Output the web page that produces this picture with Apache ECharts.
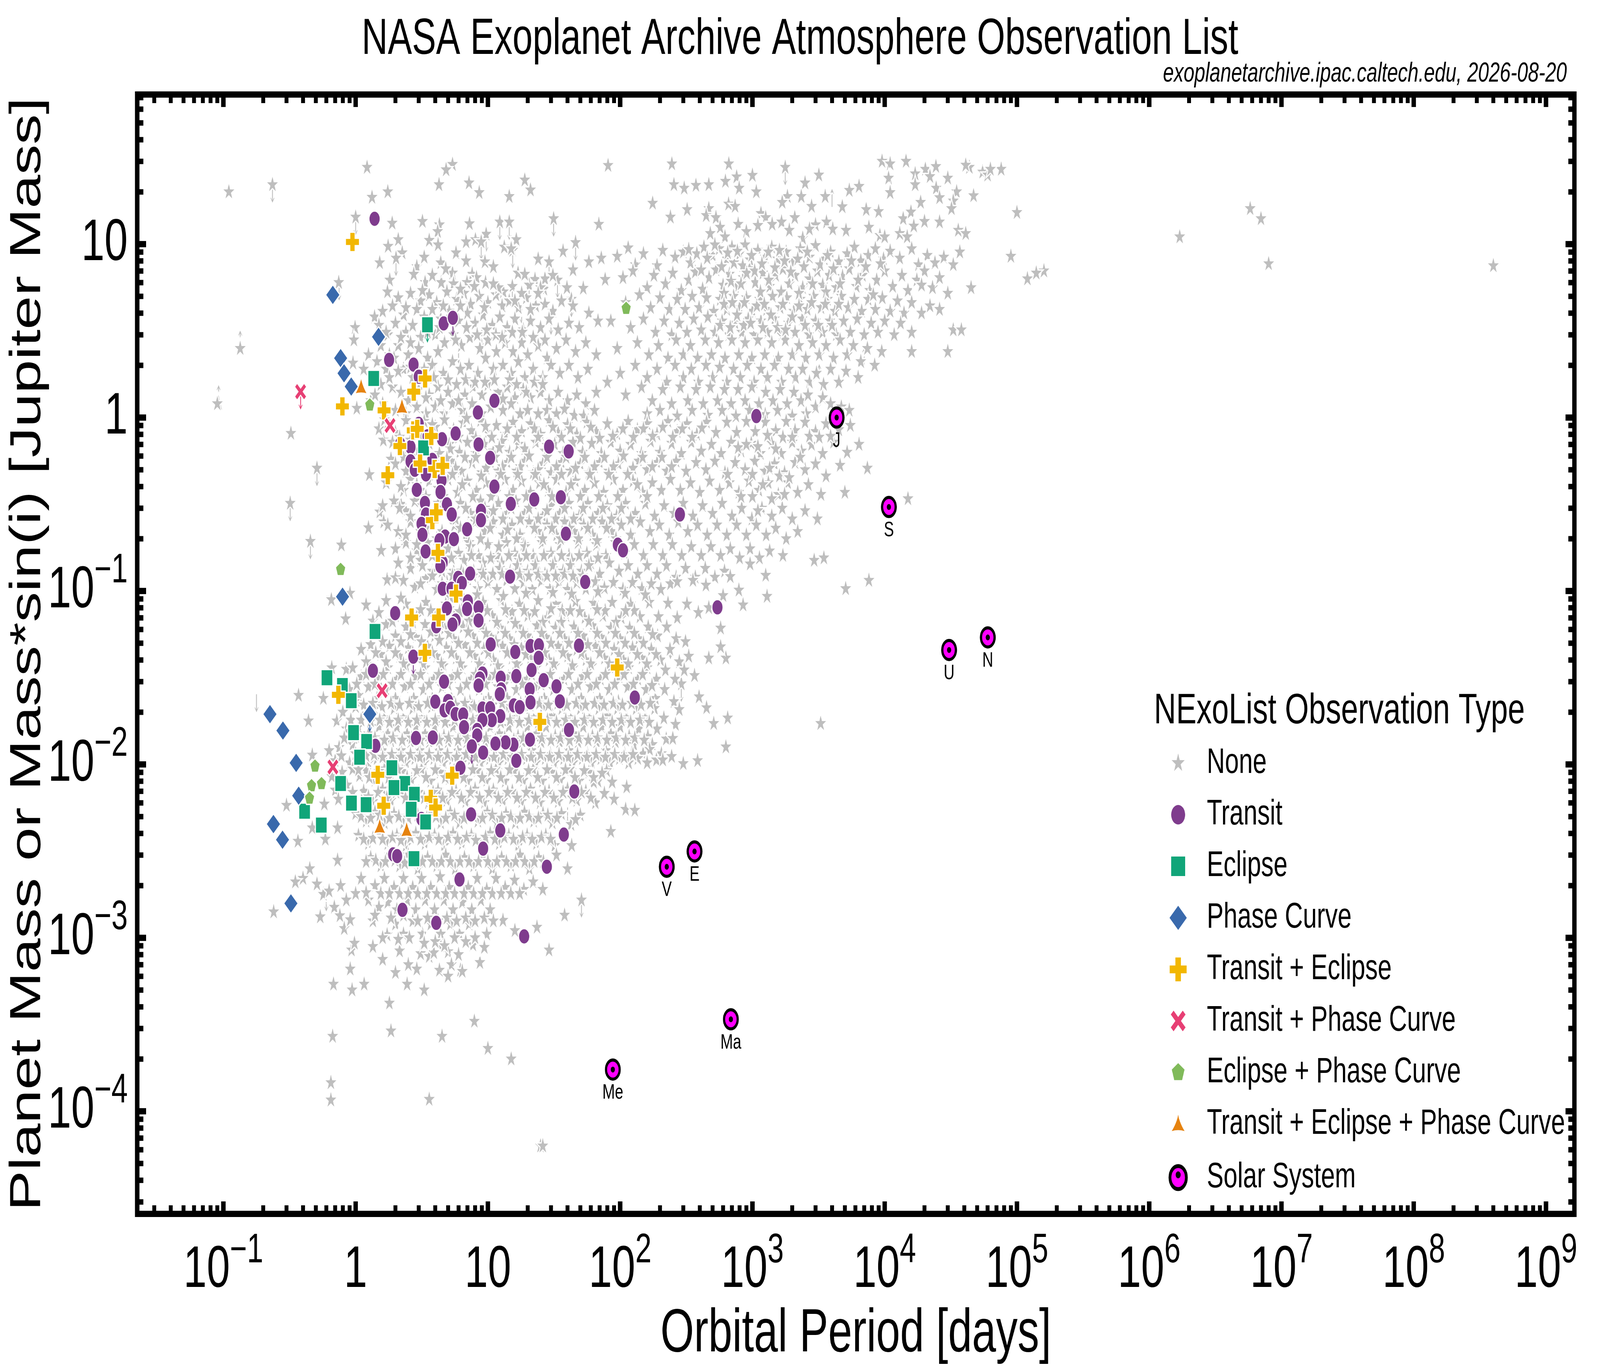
<!DOCTYPE html>
<html><head><meta charset="utf-8">
<style>html,body{margin:0;padding:0;background:#fff;overflow:hidden}#c{width:5750px;height:3500px;transform-origin:0 0}</style>
<script src="https://cdn.jsdelivr.net/npm/echarts@6/dist/echarts.min.js"></script>
</head><body><div id="c"></div><script>
const FONT='"Liberation Sans"';
// "None" planets: flat [period, mantissa] lists, one list per mass decade (mass = mantissa * 10^k Jupiter)
const noneE1=[.11,2,.235,2.2,1.22,2.77,5.4,2.88,4.83,2.68,4.27,2.2,7.2,2.25,8.6,1.98,19,2.34,21,2.05,14.5,1.88,1.33,1.86,1.75,2,1,1.43,31.4,1.4,69,1.3,1.89,1.32,3.2,1.35,4.3,1.29,7.26,1.31,12.3,1.34,14.5,1.34,9.7,1.14,46,1.02,16.4,1.06,4.17,1.18,3.6,1.05,2.1,1.06,6.84,1.03,8.05,1.06,8.9,1.03,
81,2.84,246,2.9,663,2.9,1770,2.77,9550,3,11000,2.9,14500,3,20300,2.7,24400,2.8,43700,2.77,41000,2.85,76000,2.7,255,2.2,305,2.1,374,2.18,468,2.2,625,2.3,760,2.44,1000,2.49,794,2.1,1070,2,2500,2.25,3180,2.5,5400,2.04,6400,2.15,10700,2.4,17000,2.54,22000,2.45,30000,2.4,11000,1.98,17000,2.2,24500,2.1,35000,2,26000,1.85,33000,1.77,18700,1.74,1840,1.88,2340,1.88,3550,1.88,1680,1.74,2800,1.65,4780,1.64,176,1.72,321,1.58,240,1.43,69,1.3,660,1.7,740,1.65,468,1.6,447,1.46,530,1.42,1160,1.5,1260,1.42,1410,1.3,1660,1.34,2090,1.42,3000,1.29,3630,1.34,4050,1.22,5100,1.2,7250,1.58,9000,1.54,13800,1.4,15800,1.53,26000,1.34,16600,1.27,7600,1.25,9200,1.12,10000,1.1,13000,1.15,14800,1.1,100000,1.52,1700000,1.1,5800000,1.6,7000000,1.4,570,1.25,780,1.3,900,1.18,1100,1.28,1900,1.2,2400,1.08,2700,1.22,620,1.1,480,1.15,36000,1.2,41000,1.15,20000,1.35,32000,1.6,47000,1.9,55000,2.6,60000,2.5,63000,2.7];
const noneE0=[4.2,9.9,2.25,8.9,2.02,8.3,1.76,9.7,1.52,7.8,13.3,9.6,15.4,9.2,5.74,8.9,6.84,8,9.5,7.9,4.4,7.8,2.9,7.4,29,7.9,58,7.9,72,8.3,7.6,6.7,5.4,6.8,16.9,6.8,1.81,6.2,3.35,6,4.44,6,5.5,5.9,2.75,6.7,6.95,6,9.6,6,22.7,6.25,33.6,6.2,77,6.25,15.3,5.7,20.5,5.8,13.1,5.3,26.5,5.5,39.6,5.6,52.6,5.56,42.8,4.8,1.74,5.3,.745,6,.99,3.3,.97,2.8,.955,2.06,1.02,1.13,1.39,3.8,.134,2.5,.092,1.21,
2.1,4.9,2.6,5.2,3.1,4.7,3.6,5.1,4.1,4.6,4.9,5.3,5.8,4.8,6.6,5.2,7.4,4.5,8.6,5,10,4.6,11.5,5.1,12.8,4.4,14.5,4.7,17,4.3,19.5,4.9,23,4.4,27,4.5,31,4.1,36,4.7,44,4.4,1.6,4.1,1.9,4.4,2.3,3.9,2.9,4.2,3.3,3.8,3.8,4.2,4.4,3.7,5.1,4.1,6,3.6,7,4,8,3.5,9.2,3.9,10.8,3.4,12.3,3.8,14,3.3,16,3.7,18.5,3.2,21,3.6,25,3.3,29,3.7,34,3.2,41,3.5,49,3.3,58,4,68,3.6,1.5,3.4,1.75,3,2,3.5,2.4,3.1,2.7,3.4,3.1,2.9,4,3,4.7,2.7,5.5,3,6.3,2.6,7.3,2.9,8.7,2.5,10,2.8,11.6,2.4,13.5,2.7,15.5,2.4,18,2.7,20,2.3,24,2.6,28,2.2,33,2.5,39,2.8,46,2.4,55,2.7,66,2.3,1.55,2.6,1.8,2.3,2.1,2.6,2.5,2.3,3,2.5,3.5,2.2,4.2,2.4,1.25,2.3,1.45,2.1,1.7,1.9,1.95,2.2,2.3,1.9,2.7,1.7,3.3,1.9,3.8,2,4.6,1.8,5.4,2.1,6.2,1.9,7.2,2,8.4,1.8,9.6,2.2,11,1.9,13,2,15,1.8,17,2.1,19,1.7,22,1.9,26,1.7,30,2,35,1.8,41,2,48,1.7,57,1.9,1.3,1.7,1.55,1.55,1.9,1.5,2.2,1.4,2.5,1.25,3,1.45,3.6,1.35,4.2,1.5,5,1.4,5.8,1.55,6.7,1.35,7.7,1.5,9,1.35,10,1.55,12,1.4,14,1.5,16,1.3,18.5,1.45,21,1.3,25,1.4,29,1.25,34,1.4,40,1.25,47,1.35,55,1.2,66,1.4,80,1.6,1.3,1.25,1.6,1.2,2,1.1,2.4,1.05,2.9,1.15,3.4,1.05,4,1.15,4.7,1.05,5.4,1.2,6.4,1.1,7.6,1.2,9,1.05,10.5,1.15,13,1.1,15,1.2,17.5,1.05,20,1.1,24,1.05,28,1.1,33,1.05,38,1.12,45,1.03,53,1.02,64,1.1,
95,8.5,115,9.5,130,7.6,150,8.8,190,7.5,210,9.2,260,8.4,300,9,340,7.8,380,8.8,430,9.6,500,8.6,560,9.4,640,8.2,700,9.6,800,8.8,880,9.9,960,8.1,1100,9.2,1250,8.4,1400,9.6,1550,8.2,1800,9,2000,7.8,2300,9.4,2700,8.4,3000,9.8,3500,8.2,3900,9,4500,7.9,5200,8.8,5900,9.6,6600,8,7500,8.6,8500,9.4,9800,8.2,11000,9.1,13000,8.3,16000,9.4,18000,7.6,21000,8.6,24000,7.8,28000,8.4,33000,7.6,37000,9,
105,6.4,125,7,160,5.6,180,6.6,220,5.9,250,6.8,290,5.4,330,6.2,370,6.9,420,5.5,470,6.4,530,7.1,600,5.8,670,6.7,750,5.6,850,6.4,950,7.2,1050,6,1200,6.8,1350,5.7,1500,6.6,1700,7.2,1900,5.9,2100,6.6,2400,5.6,2700,6.3,3100,7,3400,5.8,3800,6.6,4300,5.6,4800,6.5,5400,7.2,6100,5.7,6800,6.6,7700,5.4,8700,6.2,10000,7,11500,5.7,13500,6.6,15000,5.4,17500,6.2,20000,7,23000,5.6,26000,6.4,30000,5.2,
110,4.6,140,5.1,170,4.3,200,4.9,235,4.2,270,4.8,310,4.2,350,5,395,4.3,450,4.9,510,4.1,570,4.8,640,4.2,720,5,800,4.3,900,4.9,1000,4.1,1130,4.8,1280,4.2,1420,5,1620,4.3,1820,4.9,2050,4.1,2300,4.8,2600,4.2,2900,5,3300,4.3,3700,4.8,4200,4.1,4700,5,5300,4.3,5900,4.8,6700,4.1,7500,4.8,8500,4.2,9600,4.9,11000,4.1,12500,4.7,14000,4,16000,4.6,19000,4,22000,4.4,26000,4.2,
85,3.6,120,3.3,150,3.7,185,3.1,215,3.6,245,3,280,3.5,320,3.1,360,3.7,410,3.2,460,3.8,520,3.1,590,3.6,660,3,740,3.5,830,3.1,930,3.7,1030,3,1160,3.6,1300,3.1,1470,3.7,1660,3,1870,3.5,2100,3.1,2380,3.7,2680,3,3000,3.6,3400,3.1,3850,3.6,4300,3,4900,3.6,5500,3.1,6200,3.7,7000,3,7900,3.5,8900,3.1,10000,3.6,11800,3,13200,3.5,16000,3.1,30000,2.4,33000,3.2,
95,2.5,135,2.7,165,2.3,195,2.6,230,2.2,265,2.8,300,2.3,340,2.6,385,2.2,440,2.8,490,2.3,555,2.7,620,2.2,700,2.8,790,2.3,880,2.7,990,2.2,1100,2.8,1240,2.3,1400,2.7,1570,2.2,1770,2.8,2000,2.3,2250,2.6,2530,2.2,2850,2.7,3200,2.3,3600,2.6,4100,2.2,4600,2.8,5200,2.3,5800,2.6,6600,2.1,7400,2.5,8400,2,9500,2.4,
100,1.8,130,2,160,1.7,190,1.9,225,1.6,260,2,300,1.7,345,1.9,390,1.6,445,2,500,1.7,565,1.95,640,1.6,720,1.9,810,1.7,915,2,1030,1.6,1160,1.9,1300,1.7,1470,2,1660,1.6,1880,1.9,2120,1.7,2400,1.9,2700,1.6,3050,1.8,3450,1.55,3900,1.9,4500,1.6,6300,1.7,5100,1.85,
110,1.35,145,1.5,175,1.25,210,1.45,245,1.2,285,1.5,325,1.25,375,1.45,425,1.2,480,1.5,545,1.25,615,1.45,690,1.2,780,1.45,880,1.25,990,1.5,1120,1.2,1260,1.4,1430,1.25,1620,1.45,1830,1.2,2060,1.4,2330,1.25,2630,1.35,3000,1.15,3400,1.3,3900,1.2,4700,1.15,5400,1.1,160,1.05,200,1.1,270,1.02,350,1.1,460,1.03,590,1.1,750,1.02,950,1.1,1250,1.04,1550,1.1,2000,1.02,2550,1.05,
160000,7,120000,6.3,8000000,7.7,400000000,7.5,38000,3.2,16000,2.4,19000,5.8,45000,5.6,90000,8.5,140000,6.8];
const noneEm1=[.324,8.1,.51,5.1,.32,3.2,.455,1.93,.78,1.84,1.27,4.68,2.2,3.16,1.52,2.85,1.63,2.5,1.25,2.31,1.56,1.71,2.32,1.96,1.73,1.16,2,1.19,1.62,7.4,1.85,5.75,2.3,3.8,
1.5,8.6,1.75,9.4,2,8.2,2.4,9.6,2.8,8.7,3.3,9.5,4,8.8,4.7,9.7,5.5,8.5,6.5,9.3,7.5,8.4,8.8,9.6,10,8.2,11.6,9,13.5,8,15.5,9.4,18,8.3,21,9.2,25,8,29,9.6,34,8.2,40,9.1,47,8,56,9.4,66,8.3,80,9.2,95,8,115,9.5,135,8.5,160,9.2,190,8,230,9.5,270,8.3,320,9.2,380,8,450,9.4,530,8.2,640,9.4,760,8.2,900,9.5,1050,8.3,1250,9.4,1500,8.4,1800,9.5,2100,8.4,2500,9.4,3000,8.3,3600,9.2,4500,8.5,5500,9,
1.9,7.2,2.3,6.6,2.6,7.4,3,6.5,3.6,7.1,4.3,6.2,5.1,7,6.1,6.3,7,7.2,8.1,6.2,9.4,7,11,6.4,12.8,7.3,14.6,6.3,17,7,19.5,6.2,23,7.2,27,6.4,32,7,37,6.2,44,7.2,52,6.3,61,7.1,72,6.2,85,7.2,100,6.4,120,7,145,6.2,170,7.3,200,6.3,245,7.1,290,6.2,345,7.2,410,6.4,490,7,580,6.2,690,7.2,820,6.4,980,7.1,1150,6.2,1400,7.1,1650,6.2,2000,7.2,2350,6.4,2800,7,3400,6.2,4100,7.2,5200,6.3,6400,7,
2,5.4,2.4,4.9,2.8,5.6,3.3,5,3.9,5.5,4.6,4.8,5.3,5.6,6.3,4.9,7.6,5.5,9,4.8,10.5,5.5,12,4.9,14,5.5,16.5,4.9,19,5.6,22,4.8,26,5.4,30,4.8,36,5.5,42,4.9,50,5.4,58,4.8,70,5.5,82,4.9,97,5.4,115,4.8,138,5.6,160,5,190,5.5,225,4.9,265,5.6,315,4.9,375,5.5,445,5,520,5.6,620,4.8,740,5.5,880,5,1040,5.6,1240,4.9,1470,5.4,1750,4.8,2100,5.5,2500,5,3000,5.4,3600,4.6,4600,5.3,7400,5.1,
1.7,4.2,2.2,4,2.6,4.4,3.1,3.8,3.6,4.3,4.2,3.9,5,4.4,5.9,3.7,7,4.3,8.2,3.8,9.7,4.2,11.5,3.7,13.5,4.4,15.5,3.8,18,4.3,21,3.7,24.5,4.2,28.5,3.8,33,4.4,39,3.7,46,4.3,54,3.8,64,4.2,75,3.7,89,4.4,105,3.8,125,4.3,148,3.7,175,4.2,205,3.8,240,4.4,285,3.8,340,4.2,400,3.7,475,4.3,565,3.8,670,4.2,790,3.7,940,4.3,1120,3.8,1320,4.2,1570,3.6,1850,4.2,2200,3.7,2650,4.1,3300,3.6,5000,3.7,11000,3.05,15000,3.4,
1.6,3.1,1.95,3.3,2.4,2.9,2.8,3.3,3.5,2.9,4.2,3.2,5.2,2.8,6.2,3.2,7.4,2.8,8.8,3.3,10.2,2.7,12,3.2,14,2.8,16.3,3.3,19,2.8,22,3.2,26,2.7,30,3.1,35,2.8,41,3.2,49,2.7,57,3.2,68,2.8,80,3.1,94,2.7,110,3.2,130,2.8,155,3.2,182,2.7,215,3.1,255,2.8,300,3.2,355,2.7,420,3.1,500,2.8,590,3.2,700,2.7,830,3,990,2.6,1180,3,1400,2.7,1680,3,2000,2.6,2500,2.9,3100,2.6,
1.75,2.4,2.1,2.2,2.6,2.5,3.1,2.2,3.7,2.5,4.5,2.2,5.6,2.4,6.8,2.1,8,2.5,9.5,2.2,11,2.5,13,2.1,15.2,2.4,17.5,2.1,20.5,2.5,24,2.2,28,2.4,33,2.1,38,2.5,45,2.2,53,2.4,62,2.1,73,2.5,86,2.2,102,2.4,120,2.1,142,2.5,168,2.2,198,2.4,235,2.1,275,2.5,325,2.2,385,2.4,455,2.1,540,2.4,640,2.1,760,2.4,900,2.1,1070,2.4,1270,2.1,1500,2.3,1800,2,2200,2.2,
2,1.75,2.4,1.9,2.9,1.7,3.5,1.9,4.2,1.6,5,1.85,6,1.65,7.2,1.9,8.5,1.6,10,1.85,11.8,1.6,13.8,1.9,16,1.65,18.7,1.85,22,1.6,25.6,1.9,30,1.65,35,1.85,41,1.6,48,1.9,56,1.65,66,1.85,78,1.6,92,1.9,108,1.65,128,1.85,150,1.6,178,1.85,210,1.6,248,1.85,292,1.6,345,1.8,410,1.6,485,1.8,575,1.6,680,1.75,800,1.55,960,1.75,1130,1.55,1350,1.7,2930,1.5,1700,1.6,
2.1,1.45,2.6,1.35,3.1,1.5,3.8,1.3,4.6,1.45,5.5,1.3,6.6,1.5,7.8,1.3,9.2,1.45,10.8,1.25,12.7,1.45,14.8,1.3,17.2,1.5,20,1.3,23.5,1.45,27,1.25,32,1.45,37,1.3,43,1.5,51,1.3,60,1.45,70,1.25,83,1.45,98,1.3,115,1.4,136,1.25,160,1.4,190,1.25,224,1.4,265,1.2,312,1.35,370,1.2,440,1.35,520,1.2,615,1.3,680,1.21,1260,1.23,960,1.43,3470,1.55,7600,1.15,5070,1.03,
2.3,1.15,2.8,1.05,3.4,1.18,4.1,1.02,4.9,1.12,5.9,1.02,7.1,1.15,8.4,1.03,10,1.12,11.7,1.02,13.8,1.15,16,1.03,18.6,1.12,21.7,1.02,25.3,1.14,29.5,1.03,34.4,1.12,40,1.02,47,1.12,55,1.03,65,1.13,76,1.04,89,1.12,105,1.02,124,1.12,146,1.03,172,1.1,203,1.02,240,1.1,355,1.15,445,1.08,270,1.13,790,1.01,600,.94,1290,.93,850,.83];
const noneEm2=[.656,9.06,.85,6.97,1.2,8.2,.66,3.6,.85,3.53,.37,2.5,.57,2.4,.44,1.78,.72,1.78,.47,1.13,.63,1.2,.655,8.9,.906,9.7,1.2,8.3,.84,6.9,1.35,6.7,
1.5,7.5,1.7,8.8,2,7.2,2.4,8.4,2.9,7.1,3.4,8.6,4,7,4.8,8.4,5.6,7.3,6.6,8.8,7.8,7,9.2,8.6,10.8,7.2,12.6,8.8,14.8,7,17.3,8.4,20,7.2,24,8.8,28,7,33,8.4,39,7.2,46,8.7,54,7,63,8.5,74,7.2,87,8.6,102,7,120,8.4,141,7.1,166,8.6,195,7.1,230,8.5,270,7,320,8.4,390,7.5,468,8,575,6.1,
1.45,5.8,1.7,6.4,2,5.5,2.4,6.2,2.85,5.4,3.35,6.4,3.95,5.5,4.7,6.1,5.5,5.3,6.5,6.2,7.7,5.5,9,6.3,10.6,5.4,12.4,6.1,14.6,5.3,17,6.2,20,5.5,23.5,6.3,27.6,5.4,32.4,6.1,38,5.3,44.7,6.2,52.6,5.5,62,6.3,72,5.4,85,6.1,100,5.3,118,6.1,138,5.3,163,6.2,192,5.5,225,6.2,265,5.3,312,5.1,630,4.1,468,4.1,575,4.76,
1.1,4.6,1.3,4.9,1.55,4.3,1.8,4.8,2.15,4.2,2.5,4.7,3,4.1,3.5,4.8,4.1,4.2,4.85,4.7,5.75,4.1,6.7,4.9,7.9,4.2,9.3,4.6,11,4,12.9,4.8,15.2,4.1,17.9,4.7,21,4.1,24.7,4.7,29,4,34,4.8,40,4.2,47,4.6,55,4,65,4.8,76,4.1,90,4.6,106,4,124,4.7,146,4.1,172,4.6,202,4,238,4.6,280,3.9,330,4.2,365,3.25,290,2.91,
.95,3.6,1.1,3.2,1.3,3.7,1.5,3.1,1.75,3.6,2.05,3.1,2.4,3.7,2.85,3.2,3.35,3.6,3.9,3.1,4.6,3.7,5.4,3.2,6.4,3.6,7.5,3.1,8.8,3.7,10.4,3.1,12.2,3.6,14.3,3.2,16.8,3.7,19.8,3.1,23.2,3.6,27.2,3.1,32,3.7,37.6,3.1,44,3.6,52,3.2,61,3.7,71,3.1,84,3.6,98,3.2,116,3.6,136,3.1,160,3.6,188,3.1,220,3.5,260,3.1,305,3.5,395,2.45,
.9,2.7,1.05,2.5,1.25,2.8,1.45,2.4,1.7,2.7,2,2.4,2.35,2.8,2.75,2.4,3.25,2.7,3.8,2.4,4.5,2.8,5.3,2.4,6.2,2.7,7.3,2.3,8.6,2.7,10.1,2.4,11.9,2.8,14,2.4,16.4,2.7,19.3,2.3,22.7,2.8,26.7,2.4,31.3,2.7,36.8,2.3,43.2,2.7,50.8,2.4,59.7,2.8,70.2,2.4,82.5,2.7,97,2.3,114,2.8,134,2.4,157,2.7,185,2.4,217,2.7,255,2.3,450,2.12,
.8,2,1,2.15,1.2,1.95,1.4,2.1,1.65,1.85,1.95,2.1,2.3,1.85,2.7,2.1,3.2,1.85,3.75,2.15,4.4,1.85,5.2,2.1,6.1,1.9,7.2,2.1,8.4,1.85,9.9,2.15,11.7,1.85,13.7,2.1,16.1,1.85,19,2.1,22.3,1.85,26.2,2.15,30.8,1.9,36.2,2.1,42.5,1.85,50,2.1,58.7,1.85,69,2.1,81,1.9,95.4,2.1,112,1.85,132,2.1,155,1.85,182,2.1,214,1.85,280,2.07,
.85,1.6,1.05,1.65,1.25,1.5,1.5,1.65,1.75,1.5,2.05,1.65,2.45,1.5,2.85,1.65,3.35,1.5,3.95,1.65,4.65,1.45,5.45,1.65,6.4,1.5,7.5,1.65,8.9,1.45,10.4,1.65,12.2,1.5,14.4,1.65,16.9,1.45,19.9,1.65,23.4,1.5,27.5,1.65,32.3,1.45,38,1.65,44.7,1.5,52.5,1.65,61.7,1.45,72.5,1.65,85,1.5,100,1.65,117,1.45,138,1.6,162,1.45,190,1.6,223,1.4,262,1.7,510,1.72,650,1.85,3280,1.72,
.75,1.25,.95,1.3,1.15,1.2,1.35,1.35,1.6,1.2,1.85,1.35,2.2,1.2,2.6,1.35,3.05,1.2,3.6,1.35,4.25,1.2,5,1.35,5.9,1.2,6.9,1.35,8.1,1.2,9.5,1.35,11.2,1.2,13.2,1.35,15.5,1.15,18.2,1.35,21.4,1.2,25.2,1.35,29.6,1.15,34.8,1.35,40.9,1.2,48,1.35,56.5,1.15,66.4,1.35,78,1.2,92,1.35,108,1.15,127,1.3,149,1.15,175,1.3,205,1.15,250,1.41,167,1.22,630,1.26,
.7,1.05,.9,1.02,1.05,1.08,1.25,1.02,1.45,1.08,1.7,1.02,2,1.08,2.4,1.02,2.8,1.08,3.3,1.02,3.9,1.08,4.6,1.02,5.4,1.08,6.35,1.02,7.5,1.08,8.8,1.02,10.3,1.08,12.1,1.02,14.2,1.08,16.7,1.02,19.6,1.08,23,1.02,27.1,1.08,31.8,1.02,37.4,1.08,44,1.02,51.7,1.08,60.8,1.02,71.4,1.08,84,1.02,98.7,1.08,116,1.02,136,1.08,160,1.02,188,1.06,210,1.06,245,1.11,300,1.01,385,1.05];
const noneEm3=[.3,5.8,.58,5.9,.47,4.3,.366,3.6,.59,3.7,.73,4.3,.45,2.5,.73,2.8,.4,2.2,.35,2.1,.51,2.04,.24,1.41,.54,1.32,.57,1.78,.63,1.86,.77,2,.69,1.5,.85,1.65,1,1.8,.76,1.34,.82,1.13,.91,1.27,.79,9,1.07,8.6,.7,7.1,.95,9.4,.86,7.6,.74,6.3,.66,8.5,
1.2,9.2,1.4,8.1,1.65,9.4,1.9,8,2.25,9.1,2.65,8.2,3.15,9.4,3.7,8,4.35,9,5.1,8.3,6,9.4,7.1,8,8.3,9.2,9.8,8.1,11.5,9.4,13.5,8,15.8,9.2,18.6,8.1,22,9.4,25.8,8,30.3,9,35.6,8.2,41.8,9.4,49,8,58,9,68,8,79,9.2,87,7.9,63,7.9,
1.15,7,1.35,6.1,1.6,7.2,1.85,6.2,2.2,7.1,2.55,6,3,6.9,3.55,6,4.2,7.1,4.9,6.2,5.75,7,6.8,6.1,8,7.2,9.4,6,11,7.1,13,6.2,15.3,7,18,6.1,21,7.2,24.8,6,29,7,34,6.1,40,7.2,47,6.2,55,7,65,6,76,6.8,112,7.4,90,6.3,
1,5.2,1.2,4.7,1.4,5.3,1.65,4.6,1.95,5.2,2.3,4.6,2.7,5.4,3.2,4.7,3.75,5.2,4.4,4.6,5.2,5.3,6.1,4.6,7.2,5.2,8.4,4.7,9.9,5.3,11.7,4.6,13.7,5.2,16.1,4.6,18.9,5.3,22.2,4.7,26.1,5.2,30.7,4.6,36,5.2,42.5,4.5,50,5.1,110,5.5,129,5.43,46,4.8,
1.05,3.9,1.25,3.5,1.5,4,1.75,3.5,2.05,3.9,2.4,3.4,2.85,4,3.35,3.5,3.95,3.9,4.65,3.4,5.45,4,6.4,3.5,7.5,3.9,8.85,3.4,10.4,4,12.2,3.5,14.4,3.9,16.9,3.4,19.8,3.9,23.3,3.5,27.4,3.9,32,3.4,38,3.9,85,4.1,43,3.4,
1.3,2.9,1.55,2.6,1.8,3,2.15,2.6,2.5,3,2.95,2.5,3.5,2.9,4.1,2.6,4.8,3,5.65,2.5,6.65,2.9,7.8,2.6,9.2,3,10.8,2.5,12.7,2.9,14.9,2.6,17.5,3,20.6,2.5,24.2,2.9,28.4,2.6,33,3,40,2.5,
1.1,2.2,1.4,2,1.65,2.2,1.95,1.95,2.3,2.2,2.7,1.95,3.15,2.2,3.7,1.95,4.35,2.25,5.1,1.95,6,2.2,7.1,1.95,8.3,2.2,9.8,1.9,11.5,2.2,13.5,1.95,15.9,2.15,18.7,1.9,22,2.1,26,1.9,
1.25,1.65,1.5,1.5,1.75,1.6,2.05,1.45,2.45,1.65,2.85,1.45,3.35,1.65,3.95,1.45,4.65,1.65,5.45,1.45,6.4,1.6,7.55,1.45,8.85,1.65,10.4,1.45,13,1.26,16,1.1,23.5,1.15,38,1.35,51,1.65,29,.85,
1.35,1.25,1.73,1.04,2,1.2,2.3,1.05,2.7,1.25,3.2,1.05,3.7,1.2,4.4,1.05,5.2,1.2,6.1,1.05,7.2,1.2,7.7,.91,9.8,1.05,8.7,.72,
.93,.85,.98,.93,1.35,.89,2.15,.84,3.1,.81,5,.83,2,.63,2.9,.66,4.3,.65,5.3,.7,6.2,.65,.91,.66,1.6,.75,2.5,.7,3.6,.78,4.4,.9,6,.8,.68,.54,.94,.5,1.16,.54,1.8,.42,2.45,.54,5,.6,3.9,.82,3.3,.5,6.4,.64,.67,.27,4.5,.27,7.9,.33,1.85,.29];
const noneEm4=[10,2.3,15,2,3.6,1.17,.65,1.46,.65,1.16,25,.63];
// further stars of the crowded parts of the cloud, read per decade the same way
const moreE0=[330,9.3,410,7.1,455,8.3,520,9.9,585,7.4,610,5.2,650,8.9,690,6.1,725,7.8,770,9.1,820,5.9,845,7.5,905,6.8,985,8.6,1040,7,1150,5.3,1180,7.7,1320,9,1330,6.2,1480,7.3,1600,9.2,1650,5.3,1750,8,1950,6.9,2200,8.2,2250,5.2,2450,7.4,2600,9,2850,5.9,3250,7.6,3600,5.3,3700,8.6,4100,7.2,4600,5.9,5600,8,6300,6.2,7200,7.4,8200,5.1,9300,7.7,
570,3.4,610,4.5,680,3.3,705,4.6,765,3.9,860,3.4,870,4.6,970,3.5,1080,4.4,1200,3.3,1230,4.5,1380,3.9,1550,3.3,1700,4.5,1780,3.2,2000,3.8,2250,4.4,2500,3.4,2800,4.6,3150,3.4,3550,4.5,4000,3.4,4500,4.5,
15,9.4,19,6.7,24,8.2,27,6.3,37,9.1,44,7.1,3.3,8.4,3.8,6.6,4.8,7.2,6.2,5.5,8.2,6.4,11,7.4,12,5.6,18,5.2,25,5.6,31,6.6,2.4,4.3,3.2,5.4,4.6,4.4,6.2,4.4,7.9,5.7,9.4,4.3,11,5.9,16,4.7,21,4.2,24,5.2,1.7,3.1,2.2,2.9,2.6,2.7,3.5,3.1,4.3,3.3,5.7,2.8,6.9,3.3,8.3,3,9.8,3.2,11.5,3,12.8,2.9,15.3,3.1,18.2,3.1,22,2.9,27,2.8,1.15,1.9,1.4,1.35,1.8,1.7,2.1,1.85,2.6,1.95,3.1,1.7,3.4,1.3,3.9,1.7,4.4,1.25,5,1.65,6,1.25,6.8,1.65,8,1.6,9.5,1.6,11.2,1.65,13,1.28,14.6,1.65,16.5,1.55,19.5,1.4,22.5,1.6,26,1.55];
const moreEm1=[1.65,9.7,2.15,7.7,2.5,6.1,3.1,7.9,3.8,9.1,4.4,7.6,5.2,6.6,6,7.7,6.9,9.9,8.1,7.6,9.6,8.9,10.7,7.7,12.2,6.7,14,8.6,16.5,7.7,19,6.6,22.5,8.6,24,7.7,28,6.9,31,8.8,36,7.7,42,8.6,50,7.6,60,8.8,70,7.6,88,7.8,105,8.6,126,7.7,150,8.6,176,7.8,210,8.8,250,7.7,295,8.6,350,7.7,415,8.7,
2.3,5.9,3.6,6,4.1,5.1,4.9,5.8,5.7,5.1,6.7,5.9,8.1,5.9,9.7,5.1,11.3,5.9,12.9,5.2,15,5.9,17.6,5.2,20.5,6,24,5,28,5.9,33,5.2,39,5.9,46,5.1,54,5.9,64,5.2,76,5.9,89,5.2,106,6,125,5.1,148,5.9,175,5.2,207,5.9,245,5.2,
2.9,4.1,3.4,3.5,4,4.7,4.6,3.5,5.4,4.7,6.4,4.1,7.7,3.5,8.9,4.6,10.6,3.5,12.5,4.7,14.5,3.5,16.8,4.7,19.5,3.5,22.8,4.7,26.5,4.1,30.5,3.5,36,4.7,42.5,4.1,50,3.5,59,4.7,69,3.5,82,4.7,96,3.5,114,4.7,135,4.1,160,3.5,
2.15,3,2.6,2.7,3.2,3.1,3.9,2.7,4.7,3,5.7,2.6,6.8,3,8.1,2.6,9.5,3,11,2.9,13,2.6,15,3,17.6,2.6,20.5,3,24,2.6,28,2.9,32.5,2.6,38,3,44.5,2.6,52.5,3,62,2.6,74,3,86,2.6,102,3,120,2.6,
2.4,2.1,2.9,1.85,3.4,2.3,4.1,2,5,1.75,6.2,2.3,7.4,1.8,8.8,2,10.4,2.3,12.1,1.8,14.1,2.25,16.5,2,19.1,1.8,22.5,2.3,26,2,30.5,2.3,35.5,2,41.5,2.3,48.5,2,57,2.3,67,1.95,79,2.3,93,2,
2.6,1.55,3.2,1.4,3.8,1.6,4.5,1.3,5.3,1.55,6.3,1.3,7.5,1.6,9,1.3,10.5,1.55,12.3,1.35,14.4,1.6,16.7,1.4,19.5,1.6,22.8,1.4,26.5,1.6,31,1.4,36,1.6,42,1.4,49,1.6,58,1.4,68,1.55,3.1,1.1,3.8,1.22,4.5,1.1,5.4,1.23,6.5,1.25,7.7,1.22,9.2,1.25,10.9,1.25,12.8,1.25,15,1.22,17.4,1.25,20.4,1.22,24,1.25,28,1.22,32.5,1.22,38,1.25,44,1.22,52,1.22,
780,6.7,900,7,1100,6.8,1300,7.9,1500,6.6,1700,7.7,2000,7.7,2300,5.9,2700,7.8,3200,7.7,3900,7.8,1000,4.7,1200,4.1,1350,5.1,1600,4.6,1900,4.5,650,4.7,820,3.5,1000,3.5,1100,2.9,1400,3.4,1750,3.6];
const moreEm2=[2.2,9.1,3.7,7.7,5.2,9.2,6.1,7.6,8.3,9.5,9.9,7.7,13.1,9.3,15.2,7.6,19.4,9.7,22.6,7.6,31,9.8,36.5,7.7,43,9.6,49.5,7.6,68,9.9,77,7.7,109,9.7,128,7.7,155,9.5,1.9,6.7,2.7,6.6,3.1,7.8,4.4,6.6,5.1,7.9,7.2,6.7,8.4,7.9,11.7,6.6,13.6,7.8,16.1,6.5,18.8,7.7,26,6.6,30,7.9,35.8,6.6,42,7.7,58,6.7,67,7.8,93,6.6,110,7.7,1.6,5.1,2.2,5.1,2.6,5.6,3.15,5.1,3.7,5.8,4.3,5.2,5.1,5.7,6,5,7.1,5.8,8.3,5,9.7,5.7,11.5,5.1,13.5,5.7,15.8,4.9,18.5,5.7,21.7,5,25.5,5.7,30,5,35,5.7,41,5,48,5.7,57,4.9,67,5.7,78,5,92,5.7,109,5,128,5.7,150,5,176,5.6,1.2,3.9,1.42,4.4,1.7,3.9,2,4.4,2.3,3.8,2.7,4.4,3.25,3.8,3.8,4.4,4.45,3.8,5.3,4.4,6.2,3.8,7.3,4.4,8.6,3.8,10.1,4.4,11.9,3.7,14,4.4,16.5,3.8,19.4,4.3,22.8,3.8,26.8,4.4,31.5,3.8,37,4.4,43.5,3.7,51,4.4,60,3.8,70,4.4,83,3.8,98,4.3,115,3.8,135,4.3,159,3.8,187,4.3,
1.02,2.9,1.2,3.3,1.4,2.9,1.62,3.3,1.9,2.9,2.2,3.3,2.6,2.9,3.1,3.3,3.6,2.9,4.25,3.3,5,2.9,5.9,3.3,6.9,2.9,8.1,3.3,9.6,2.9,11.3,3.3,13.3,2.9,15.5,3.3,18.2,2.9,21.4,3.3,25.2,2.9,29.6,3.3,34.8,2.9,40.8,3.3,48,2.9,56.5,3.3,66,2.9,77.5,3.3,91,2.9,107,3.3,126,2.9,148,3.3,174,2.85,
.98,2.3,1.15,2.2,1.35,2.25,1.58,2.15,1.85,2.25,2.15,2.2,2.55,2.25,3,2.15,3.5,2.25,4.15,2.2,4.85,2.25,5.7,2.2,6.7,2.25,7.9,2.15,9.3,2.25,10.9,2.2,12.8,2.25,15,2.15,17.7,2.25,20.8,2.2,24.5,2.25,28.7,2.2,33.7,2.25,39.6,2.2,46.5,2.25,54.6,2.2,64,2.25,75.5,2.2,88.7,2.25,104,2.2,122,2.25,144,2.2,169,2.25,
.92,1.8,1.1,1.8,1.3,1.78,1.52,1.8,1.8,1.75,2.1,1.8,2.5,1.75,2.9,1.8,3.45,1.75,4,1.8,4.75,1.75,5.6,1.8,6.55,1.75,7.7,1.8,9,1.75,10.7,1.8,12.5,1.75,14.7,1.8,17.3,1.75,20.4,1.8,24,1.75,28.2,1.8,33,1.75,38.8,1.8,45.5,1.75,53.6,1.8,63,1.75,74,1.8,87,1.75,102,1.8,120,1.75,141,1.8,166,1.75,
.82,1.42,1,1.45,1.2,1.4,1.4,1.42,1.65,1.38,1.92,1.42,2.25,1.38,2.65,1.42,3.1,1.38,3.65,1.42,4.3,1.38,5.05,1.42,5.95,1.38,7,1.42,8.2,1.38,9.7,1.42,11.4,1.38,13.4,1.42,15.7,1.38,18.5,1.42,21.7,1.38,25.6,1.42,30,1.38,35.3,1.42,41.5,1.38,48.8,1.42,57.4,1.38,67.5,1.42,79.3,1.38,93.2,1.42,110,1.38,129,1.42,152,1.38,
.78,1.12,1,1.15,1.2,1.12,1.38,1.14,1.6,1.1,1.88,1.14,2.2,1.1,2.6,1.14,3.05,1.1,3.6,1.14,4.2,1.1,4.95,1.14,5.8,1.1,6.85,1.14,8.05,1.1,9.45,1.14,11.1,1.1,13.1,1.14,15.3,1.1,18,1.14,21.2,1.1,25,1.14,29.3,1.1,34.5,1.14,40.5,1.1,47.6,1.14,56,1.1,65.8,1.14,77.3,1.1,91,1.14,107,1.1,125,1.14];
const moreEm3=[1.05,9.3,1.27,8.4,1.5,9.1,1.78,8.4,2.1,9.3,2.45,8.4,2.9,9.2,3.4,8.4,4,9.3,4.75,8.4,5.55,9.2,6.55,8.4,7.7,9.3,9.05,8.4,10.6,9.2,12.5,8.4,14.6,9.3,17.2,8.4,20.3,9.2,23.8,8.4,28,9.3,33,8.4,38.6,9.3,45.5,8.4,53.5,9.2,63,8.4,73,8.9,
.95,6.9,1.25,6.5,1.48,6.9,1.72,6.4,2.02,6.9,2.38,6.4,2.78,6.9,3.3,6.4,3.85,6.9,4.55,6.4,5.35,6.9,6.3,6.4,7.4,6.9,8.65,6.4,10.2,6.9,12,6.4,14.1,6.9,16.6,6.4,19.5,6.9,22.9,6.4,27,6.9,31.5,6.4,37,6.9,43.5,6.4,51,6.9,60,6.4,
1.1,5,1.3,4.9,1.52,5.1,1.8,4.9,2.12,5,2.5,4.9,2.95,5.1,3.45,4.9,4.05,5,4.8,4.9,5.6,5.1,6.6,4.9,7.8,5,9.1,4.9,10.8,5.1,12.7,4.9,14.9,5,17.5,4.9,20.5,5,24.1,4.9,28.4,5.1,33.3,4.9,
1.15,3.7,1.35,3.75,1.6,3.7,1.9,3.8,2.2,3.65,2.6,3.8,3.1,3.7,3.6,3.8,4.25,3.7,5,3.8,5.9,3.7,6.9,3.8,8.1,3.65,9.6,3.8,11.3,3.7,13.3,3.8,15.6,3.7,18.3,3.8,21.6,3.7,25.4,3.8,29.8,3.7,
1.2,2.75,1.42,2.8,1.68,2.75,1.98,2.8,2.35,2.7,2.7,2.75,3.2,2.75,3.8,2.75,4.45,2.75,5.2,2.75,6.15,2.75,7.2,2.75,8.5,2.75,10,2.75,11.7,2.75,13.8,2.75,16.2,2.75,19,2.75,22.4,2.75,26.3,2.75,
1.2,1.82,1.55,1.8,1.8,1.8,2.15,1.8,2.5,1.8,2.95,1.8,3.45,1.8,4.1,1.8,4.8,1.8,5.6,1.8,6.6,1.8,7.8,1.8,9.1,1.8,10.8,1.8,12.6,1.8,14.9,1.8,17.4,1.8,1.4,1.35,1.85,1.3,2.3,1.35,2.95,1.25,3.5,1.3,4.2,1.25,4.9,1.3,5.8,1.25,6.8,1.3,8,1.25,9.4,1.3,11,1.25,1.6,1,2.1,.98,2.55,1,3.3,.93,4,.95,4.7,.9,5.6,1,6.8,.95,8,1,9.4,.88];
const solarNames=['Me','V','E','Ma','J','S','U','N'];
const solarP=[88,225,365,687,4333,10759,30687,60190];
const solarM=[1.74e-4,2.57e-3,3.15e-3,3.39e-4,1,.305,.0457,.054];
const transit=[1.39,14,4.63,3.49,5.43,3.76,1.79,2.15,2.74,2.02,3,1.72,11.2,1.25,8.4,1.07,3,.92,5.7,.81,4.5,.75,3.5,.78,8.5,.7,10.4,.586,29,.68,2.17,.705,2.6,.675,2.6,.56,3.8,.57,2.8,.5,3.4,.47,4.46,.434,11.2,.4,2.9,.383,4.38,.372,3.34,.322,4.9,.316,14.9,.318,22.4,.337,8.86,.29,8.86,.256,5.33,.276,3.4,.276,3.15,.244,6.96,.227,3.2,.211,4.75,.206,4.3,.196,5.53,.199,3.38,.169,4.55,.146,4.37,.139,14.7,.121,7.34,.126,5.96,.119,6.35,.111,4.55,.103,5.3,.103,7.06,.0871,6.96,.0787,8.5,.0803,1.99,.0745,4.9,.0794,5.7,.0676,8.5,.0676,4.07,.0626,5.4,.0641,10.5,.0492,16.1,.0445,21,.0482,24.3,.0486,24.2,.0412,48.8,.0484,21.4,.035,16.4,.0323,26.4,.0306,33,.0282,35,.0231,9.1,.0334,8.7,.0313,8.5,.0285,12.5,.0316,12.6,.0271,12.3,.0254,20.7,.0271,21,.0228,15.7,.0219,17.4,.0214,4.66,.03,4,.023,5,.0232,4.7,.0205,5.2,.0212,5.7,.0195,6.5,.0194,9.1,.021,10.4,.0211,12.4,.019,10.7,.018,9.1,.018,6.6,.0164,8.3,.0158,8.3,.0147,41,.0158,20.8,.0139,15.6,.013,13.6,.0134,11.4,.0132,7.56,.0127,9.2,.0117,16.4,.0105,2.86,.0142,3.83,.0143,1.41,.0128,1.35,.0347,2.73,.0418,6.2,.00957,45,.00698,7.46,.00515,12.4,.00416,3.14,.00485,37.5,.00394,9.2,.00327,1.92,.00303,2.06,.00296,27.9,.00257,6.1,.00217,2.26,.00145,4.07,.00122,18.8,.00102,1071,1.02,283,.276,40.8,.638,35.6,.347,38.9,.214,96,.185,105,.1715,54.4,.1127,544,.0805,129,.0243];
const eclipse=[3.49,3.43,1.37,1.68,3.26,.669,1.4,.0584,.607,.0316,.794,.0285,.927,.0233,.964,.01525,1.21,.01355,1.07,.011,1.88,.00957,2.35,.00776,1.95,.00735,2.78,.00672,.77,.00776,.93,.00598,1.2,.00586,2.63,.00551,3.38,.00466,.411,.00537,.55,.00447,2.76,.00286];
const phase=[.672,5.1,1.49,2.92,.77,2.2,.817,1.8,.926,1.51,.796,.0927,.225,.0195,.282,.01567,.355,.0102,1.28,.0195,.371,.0066,.239,.00453,.28,.00368,.324,.00158];
const tplus=[.946,10.3,3.35,1.68,2.75,1.41,.794,1.16,1.64,1.1,2.73,.843,2.92,.861,3.73,.783,2.16,.685,3.07,.543,3.96,.505,4.55,.527,1.75,.465,3.8,.256,4.07,.284,4.19,.166,5.74,.0966,2.65,.0703,4.24,.0703,3.34,.044,.74,.0252,1.47,.00871,3.7,.00633,4.02,.00564,1.63,.00578,5.37,.00861,24.7,.0176,95,.0362];
const tpc=[.3835,1.41,1.82,.9,1.585,.0266,.673,.00966];
const epc=[1.28,1.18,.77,.133,.493,.00977,.464,.00753,.552,.00774,.448,.00638,111,4.26];
const tepc=[1.1,1.51,2.24,1.16,1.52,.0044,2.43,.00421];
// limit arrows
const limitsDown=[1,14.3,.235,22,31.4,14,12.3,13.4,14.5,13.4,9.7,11.4,46,10.2,8.9,10.3,15.4,9.2,2.02,8.3,29,7.9,33.6,6.2,15.3,5.7,20.5,5.8,13.1,5.3,42.8,4.8,.51,.51,.32,.32,.455,.193,.178,.0254,240,.0513,290,.0291,51,.00166,40,.00569,1770,27.7,.75,6,4,2,6,2.6,9,3.2,18,4.4,30,3.8,.6,.0018];
const limitsUp=[.134,2.5,.092,1.21,4000,16.4,7000,2,3200,1.6];
const limTransit=[5.43,3.76,2.73,.0418,7.56,.0127];
const limEclipse=[3.49,3.43];
const limPhase=[1.28,.0195];
const limTpc=[.3835,1.41];
const legendNames=['None','Transit','Eclipse','Phase Curve','Transit + Eclipse','Transit + Phase Curve','Eclipse + Phase Curve','Transit + Eclipse + Phase Curve','Solar System'];
const xTicks=[.1,1,10,100,1e3,1e4,1e5,1e6,1e7,1e8,1e9];
const yTicks=[1e-4,1e-3,.01,.1,1,10];
const minorX=[];for(let e=-2;e<=8;e++)for(let m=2;m<=9;m++){const v=m*Math.pow(10,e);if(v>.0223&&v<1.64e9)minorX.push(v);}
const minorY=[];for(let e=-5;e<=1;e++)for(let m=2;m<=9;m++){const v=m*Math.pow(10,e);if(v>2.56e-5&&v<72.9)minorY.push(v);}
const XMIN=.0223,XMAX=1.64e9,YMIN=2.56e-5,YMAX=72.9;
document.getElementById('c').style.transform='scaleX('+Math.min(1,innerWidth/5750)+')';
const pairs=a=>{const o=[];for(let i=0;i<a.length;i+=2)o.push([a[i],a[i+1]]);return o;};
const decade=(a,f)=>{const o=[];for(let i=0;i<a.length;i+=2)o.push(a[i],a[i+1]*f);return o;};
const noneData=[...decade(noneE1,10),...noneE0,...decade(noneEm1,.1),...decade(noneEm2,.01),...decade(noneEm3,.001),...decade(noneEm4,1e-4),.09,1.2,26,6.3e-5,...moreE0,...decade(moreEm1,.1),...decade(moreEm2,.01),...decade(moreEm3,.001)];
const FR='M-50,-50L-50,-50M50,50L50,50';
const poly=p=>'M'+p.map(q=>q[0].toFixed(2)+','+q[1].toFixed(2)).join('L')+'Z';
const star=R=>{const p=[];for(let k=0;k<10;k++){const r=k%2?R*.382:R,a=(-90+36*k)*Math.PI/180;p.push([r*Math.cos(a),r*Math.sin(a)]);}return 'path://'+FR+poly(p);};
const circ=r=>`path://${FR}M${-r},0A${r},${r},0,1,1,${r},0A${r},${r},0,1,1,${-r},0Z`;
const sq=h=>'path://'+FR+poly([[-h,-h],[h,-h],[h,h],[-h,h]]);
const dia=h=>'path://'+FR+poly([[0,-h],[h,0],[0,h],[-h,0]]);
const plus=(h,t)=>'path://'+FR+poly([[-t,-h],[t,-h],[t,-t],[h,-t],[h,t],[t,t],[t,h],[-t,h],[-t,t],[-h,t],[-h,-t],[-t,-t]]);
const cross=(h,t)=>{const a=t,b=h;return 'path://'+FR+poly([[0,-a],[b-a,-b],[b,-b+a],[a,0],[b,b-a],[b-a,b],[0,a],[a-b,b],[-b,b-a],[-a,0],[-b,a-b],[a-b,-b]]);};
const pent=R=>{const p=[];for(let k=0;k<5;k++){const a=(-90+72*k)*Math.PI/180;p.push([R*Math.cos(a),R*Math.sin(a)]);}return 'path://'+FR+poly(p);};
const tri=(w,h)=>`path://${FR}M0,${-h}Q${w*.18},${-h*.2},${w},${h*.75}Q0,${h*.55},${-w},${h*.75}Q${-w*.18},${-h*.2},0,${-h}Z`;
const arrowD='path://'+FR+poly([[-1.5,0],[1.5,0],[1.5,39],[6,33],[7,34],[0,46],[-7,34],[-6,33],[-1.5,39]]);
const arrowU='path://'+FR+poly([[-1.5,0],[1.5,0],[1.5,-39],[6,-33],[7,-34],[0,-46],[-7,-34],[-6,-33],[-1.5,-39]]);
const GRAY='#bebebe',PUR='#7f3c8d',TEAL='#11a579',BLUE='#3969ac',YEL='#f2b701',PINK='#e73f74',GRN='#80ba5a',ORG='#e68310',MAG='#ff00ff';
const sc=(name,data,sym,color,z)=>({name,type:'scatter',data:pairs(data),symbol:sym,symbolSize:100,z,silent:true,progressive:0,large:false,
  itemStyle:{color,borderColor:'#fff',borderWidth:3.5,opacity:1}});
const arrows=(data,sym,color,z)=>({type:'scatter',name:'limit',data:pairs(data),symbol:sym,symbolSize:100,z,silent:true,progressive:0,itemStyle:{color,opacity:1}});
const tickTxt=v=>{const e=Math.round(Math.log10(v));if(e===0)return '{b|1}';if(e===1)return '{b|10}';return '{b|10}{s|'+String(e).replace('-','\u2212')+'}';};
const rich={b:{fontSize:150,lineHeight:150,fontFamily:FONT,color:'#000',verticalAlign:'middle'},s:{fontSize:105,lineHeight:105,padding:[0,0,102,0],fontFamily:FONT,color:'#000',verticalAlign:'middle'}};
const axBase={type:'log',splitLine:{show:false},minorTick:{show:false},axisLine:{show:false},axisTick:{show:false}};
const rect=(x,y,w,h)=>({type:'rect',shape:{x,y,width:w,height:h},style:{fill:'#000'}});
const tickSeries=(name,vals,dim,tw,tl)=>({type:'custom',name,coordinateSystem:'cartesian2d',z:6,silent:true,clip:false,
  data:vals.map(v=>dim===0?[v,YMIN]:[XMIN,v]),
  renderItem:(p,api)=>{const v=api.value(dim);
    if(dim===0){const b=api.coord([v,YMIN]),t=api.coord([v,YMAX]);return {type:'group',children:[rect(b[0]-tw/2,b[1]-tl,tw,tl),rect(t[0]-tw/2,t[1],tw,tl)]};}
    const l=api.coord([XMIN,v]),r=api.coord([XMAX,v]);return {type:'group',children:[rect(l[0],l[1]-tw/2,tl,tw),rect(r[0]-tl,r[1]-tw/2,tl,tw)]};}});
const legendIcons=[star(24.7),circ(25),sq(25),dia(31),plus(30.5,10),cross(26.5,10),pent(24),tri(23,24),circ(29.5)];
const chart=echarts.init(document.getElementById('c'),null,{width:5750,height:3500,renderer:'canvas',devicePixelRatio:1});
chart.setOption({
 animation:false,backgroundColor:'#fff',
 title:[
  {text:'NASA Exoplanet Archive Atmosphere Observation List',left:'center',top:32,textStyle:{fontFamily:FONT,fontSize:130,fontWeight:'normal',color:'#000'}},
  {text:'exoplanetarchive.ipac.caltech.edu, 2026-08-20',right:114,top:150,textStyle:{fontFamily:FONT,fontSize:70,fontStyle:'italic',fontWeight:'normal',color:'#000'}},
  {text:'NExoList Observation Type',left:4142,top:1762,textStyle:{fontFamily:FONT,fontSize:110,fontWeight:'normal',color:'#000'}}
 ],
 grid:{left:493,top:242,width:5165,height:2866,show:true,borderWidth:16,borderColor:'#000',outerBoundsMode:'none',containLabel:false},
 xAxis:{...axBase,min:XMIN,max:XMAX,name:'Orbital Period [days]',nameLocation:'middle',nameGap:232,nameMoveOverlap:false,nameTextStyle:{fontFamily:FONT,fontSize:155,color:'#000'},
   axisLabel:{show:true,customValues:xTicks,margin:146,verticalAlign:'middle',formatter:tickTxt,rich,hideOverlap:false}},
 yAxis:{...axBase,min:YMIN,max:YMAX,name:'Planet Mass or Mass*sin(i) [Jupiter Mass]',nameLocation:'middle',nameGap:314,nameMoveOverlap:false,nameTextStyle:{fontFamily:FONT,fontSize:155,color:'#000'},
   axisLabel:{show:true,customValues:yTicks,margin:34,align:'right',verticalAlign:'middle',formatter:tickTxt,rich,hideOverlap:false}},
 legend:{show:true,orient:'vertical',left:4179,top:1904,itemWidth:196,itemHeight:100,itemGap:32,symbolKeepAspect:true,selectedMode:false,padding:0,
  itemStyle:{borderWidth:0},textStyle:{fontFamily:FONT,fontSize:90,color:'#000'},
  data:legendNames.map((n,i)=>({name:n,icon:legendIcons[i],itemStyle:i===8?{borderWidth:10,borderColor:'#000',color:MAG}:{borderWidth:0}}))},
 graphic:[{type:'circle',z:100,shape:{cx:4234,cy:3008,r:9},style:{fill:'#000'}}],
 series:[
  arrows(limitsDown,arrowD,GRAY,2),arrows(limitsUp,arrowU,GRAY,2),
  sc('None',noneData,star(26.2),GRAY,3),
  arrows(limTransit,arrowD,PUR,4),arrows(limEclipse,arrowD,TEAL,4),arrows(limPhase,arrowD,BLUE,4),arrows(limTpc,arrowD,PINK,4),
  sc('Transit',transit,circ(20),PUR,4),
  sc('Eclipse',eclipse,sq(21),TEAL,4),
  sc('Phase Curve',phase,dia(26),BLUE,4),
  sc('Transit + Eclipse',tplus,plus(25,9.5),YEL,4),
  sc('Transit + Phase Curve',tpc,cross(22,9.5),PINK,4),
  sc('Eclipse + Phase Curve',epc,pent(19.5),GRN,4),
  sc('Transit + Eclipse + Phase Curve',tepc,tri(23,26),ORG,4),
  {name:'Solar System',type:'scatter',symbol:circ(24.5),symbolSize:100,z:5,silent:true,
   data:solarNames.map((n,i)=>({name:n,value:[solarP[i],solarM[i]]})),
   itemStyle:{color:MAG,borderColor:'#000',borderWidth:8,opacity:1},
   label:{show:true,position:'inside',offset:[0,60],formatter:'{b}',fontFamily:FONT,fontSize:54,color:'#000'}},
  {name:'solarDot',type:'scatter',symbol:'circle',symbolSize:15,z:5,silent:true,data:solarP.map((p,i)=>[p,solarM[i]]),itemStyle:{color:'#000',opacity:1}},
  tickSeries('majorX',xTicks,0,16,32),tickSeries('majorY',yTicks,1,16,32),
  tickSeries('minorX',minorX,0,14,22),tickSeries('minorY',minorY,1,14,22)
 ]
});
</script></body></html>
